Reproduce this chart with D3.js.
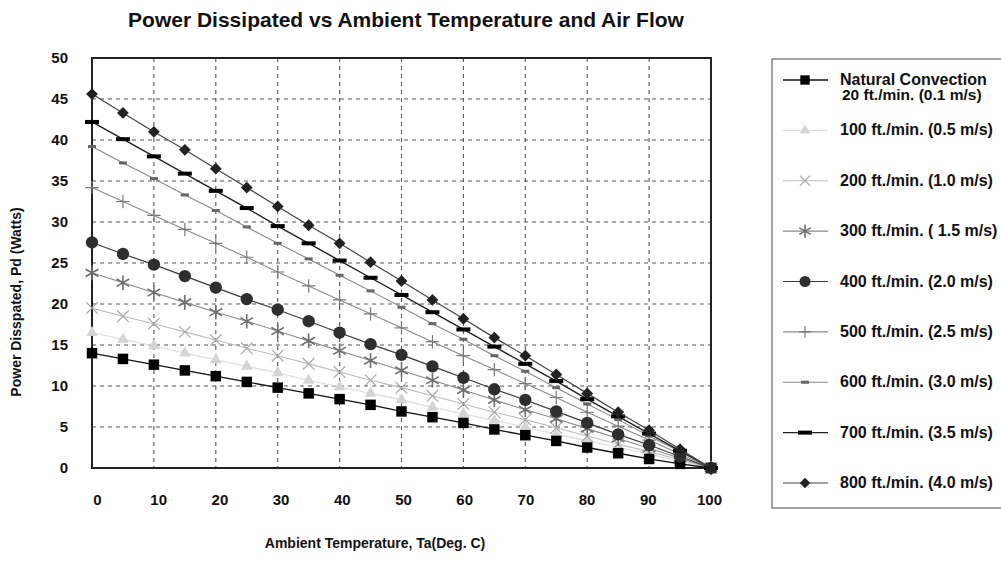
<!DOCTYPE html>
<html>
<head>
  <meta charset="utf-8">
  <script src="https://d3js.org/d3.v7.min.js"></script>
  <style>
    body { margin: 0; background: #fff; }
    text { font-family: "Liberation Sans", Arial, sans-serif; font-weight: bold; fill: #111; }
  </style>
</head>
<body>
<script type="text/javascript">
  "use strict";

  // ambient temperature (deg C), one point every 5 degrees
  var temps = [0, 5, 10, 15, 20, 25, 30, 35, 40, 45, 50, 55, 60, 65, 70, 75, 80, 85, 90, 95, 100];

  // power dissipated (W), one array per air flow
  var natural = [14.0, 13.3, 12.6, 11.9, 11.2, 10.5, 9.8, 9.1, 8.4, 7.7, 6.9, 6.2, 5.5, 4.7, 4.0, 3.3, 2.5, 1.8, 1.1, 0.5, 0];
  var flow100 = [16.5, 15.7, 14.9, 14.0, 13.2, 12.4, 11.6, 10.7, 9.9, 9.1, 8.3, 7.4, 6.6, 5.8, 5.0, 4.1, 3.3, 2.5, 1.7, 0.8, 0];
  var flow200 = [19.5, 18.5, 17.6, 16.6, 15.6, 14.6, 13.7, 12.7, 11.7, 10.7, 9.8, 8.8, 7.8, 6.8, 5.9, 4.9, 3.9, 2.9, 2.0, 1.0, 0];
  var flow300 = [23.8, 22.6, 21.4, 20.2, 19.0, 17.9, 16.7, 15.5, 14.3, 13.1, 11.9, 10.7, 9.5, 8.3, 7.1, 6.0, 4.8, 3.6, 2.4, 1.2, 0];
  var flow400 = [27.5, 26.1, 24.8, 23.4, 22.0, 20.6, 19.3, 17.9, 16.5, 15.1, 13.8, 12.4, 11.0, 9.6, 8.3, 6.9, 5.5, 4.1, 2.8, 1.4, 0];
  var flow500 = [34.2, 32.5, 30.8, 29.1, 27.4, 25.7, 23.9, 22.2, 20.5, 18.8, 17.1, 15.4, 13.7, 12.0, 10.3, 8.6, 6.8, 5.1, 3.4, 1.7, 0];
  var flow600 = [39.2, 37.2, 35.3, 33.3, 31.4, 29.4, 27.4, 25.5, 23.5, 21.6, 19.6, 17.6, 15.7, 13.7, 11.8, 9.8, 7.8, 5.9, 3.9, 2.0, 0];
  var flow700 = [42.2, 40.1, 38.0, 35.9, 33.8, 31.7, 29.5, 27.4, 25.3, 23.2, 21.1, 19.0, 16.9, 14.8, 12.7, 10.6, 8.4, 6.3, 4.2, 2.1, 0];
  var flow800 = [45.6, 43.3, 41.0, 38.8, 36.5, 34.2, 31.9, 29.6, 27.4, 25.1, 22.8, 20.5, 18.2, 15.9, 13.7, 11.4, 9.1, 6.8, 4.6, 2.3, 0];

  var seriesNames = [
    ["Natural Convection", "20 ft./min. (0.1 m/s)"],
    ["100 ft./min. (0.5 m/s)"],
    ["200 ft./min. (1.0 m/s)"],
    ["300 ft./min. ( 1.5 m/s)"],
    ["400 ft./min. (2.0 m/s)"],
    ["500 ft./min. (2.5 m/s)"],
    ["600 ft./min. (3.0 m/s)"],
    ["700 ft./min. (3.5 m/s)"],
    ["800 ft./min. (4.0 m/s)"]
  ];
  var seriesValues = [natural, flow100, flow200, flow300, flow400, flow500, flow600, flow700, flow800];

  var xTicks = [0, 10, 20, 30, 40, 50, 60, 70, 80, 90, 100];
  var yTicks = [0, 5, 10, 15, 20, 25, 30, 35, 40, 45, 50];

  // look of each series: marker kind, marker colour, line colour
  var styles = [
    {mark: "square",   fill: "#000",    line: "#111",    lw: 1.3},
    {mark: "triangle", fill: "#d4d4d4", line: "#dedede", lw: 1.2},
    {mark: "times",    fill: "#a8a8a8", line: "#bdbdbd", lw: 1.1},
    {mark: "asterisk", fill: "#6e6e6e", line: "#8a8a8a", lw: 1.1},
    {mark: "circle",   fill: "#2e2e2e", line: "#3a3a3a", lw: 1.2},
    {mark: "plus",     fill: "#777",    line: "#8a8a8a", lw: 1.1},
    {mark: "dash",     fill: "#666",    line: "#888",    lw: 1.1},
    {mark: "bar",      fill: "#000",    line: "#222",    lw: 1.4},
    {mark: "diamond",  fill: "#222",    line: "#444",    lw: 1.2}
  ];

  var W = 1001, H = 580;
  var plot = {left: 92, top: 58, right: 711, bottom: 468};

  var svg = d3.select("body").append("svg")
      .attr("width", W).attr("height", H);

  var x = d3.scaleLinear().domain([0, 100]).range([plot.left, plot.right]);
  var y = d3.scaleLinear().domain([0, 50]).range([plot.bottom, plot.top]);
  // tick labels sit slightly right of the grid lines on the scan
  var xLabel = d3.scaleLinear().domain([0, 100]).range([97, 709]);

  // title
  svg.append("text")
      .attr("x", 406).attr("y", 27)
      .attr("text-anchor", "middle")
      .attr("font-size", 21)
      .text("Power Dissipated vs Ambient Temperature and Air Flow");

  // dashed grid
  var grid = svg.append("g").attr("stroke", "#555").attr("stroke-width", 1.1)
      .attr("stroke-dasharray", "4,4");
  grid.selectAll("line.v").data(xTicks.slice(1, -1)).enter().append("line")
      .attr("x1", d => x(d)).attr("x2", d => x(d))
      .attr("y1", plot.top).attr("y2", plot.bottom);
  grid.selectAll("line.h").data(yTicks.slice(1, -1)).enter().append("line")
      .attr("y1", d => y(d)).attr("y2", d => y(d))
      .attr("x1", plot.left).attr("x2", plot.right);

  // frame
  svg.append("rect")
      .attr("x", plot.left).attr("y", plot.top)
      .attr("width", plot.right - plot.left).attr("height", plot.bottom - plot.top)
      .attr("fill", "none").attr("stroke", "#222").attr("stroke-width", 2);

  // axes (labels only, the frame is the axis line)
  var xAxis = svg.append("g")
      .attr("transform", "translate(0," + (plot.bottom + 26) + ")")
      .call(d3.axisBottom(xLabel).tickValues(xTicks).tickSize(0).tickPadding(0));
  xAxis.select(".domain").remove();
  xAxis.selectAll("text").attr("font-size", 15).attr("dy", "0.71em");

  var yAxis = svg.append("g")
      .attr("transform", "translate(" + (plot.left - 24) + ",0)")
      .call(d3.axisLeft(y).tickValues(yTicks).tickSize(0).tickPadding(0));
  yAxis.select(".domain").remove();
  yAxis.selectAll("text").attr("font-size", 15);

  svg.append("text")
      .attr("transform", "translate(21,302) rotate(-90)")
      .attr("text-anchor", "middle")
      .attr("font-size", 14)
      .text("Power Disspated, Pd (Watts)");

  svg.append("text")
      .attr("x", 375).attr("y", 548)
      .attr("text-anchor", "middle")
      .attr("font-size", 14)
      .text("Ambient Temperature, Ta(Deg. C)");

  // marker drawing
  function drawMark(g, kind, color, k) {
    k = k || 1;
    if (kind === "square") {
      g.append("path").attr("d", d3.symbol(d3.symbolSquare, 110 * k)()).attr("fill", color);
    } else if (kind === "triangle") {
      g.append("path").attr("d", d3.symbol(d3.symbolTriangle, 60 * k)()).attr("fill", color);
    } else if (kind === "circle") {
      g.append("path").attr("d", d3.symbol(d3.symbolCircle, 120 * k)()).attr("fill", color);
    } else if (kind === "diamond") {
      g.append("path").attr("d", d3.symbol(d3.symbolSquare, 70 * k)())
          .attr("transform", "rotate(45)").attr("fill", color);
    } else if (kind === "times") {
      g.append("path").attr("d", d3.symbol(d3.symbolTimes, 90 * k)())
          .attr("fill", "none").attr("stroke", color).attr("stroke-width", 1.2);
    } else if (kind === "asterisk") {
      g.append("path").attr("d", d3.symbol(d3.symbolAsterisk, 150 * k)())
          .attr("fill", "none").attr("stroke", color).attr("stroke-width", 1.6);
    } else if (kind === "plus") {
      g.append("path").attr("d", d3.symbol(d3.symbolPlus, 60 * k)())
          .attr("fill", "none").attr("stroke", color).attr("stroke-width", 1.2);
    } else if (kind === "dash") {
      g.append("rect").attr("x", -4).attr("y", -1.5).attr("width", 8).attr("height", 3).attr("fill", color);
    } else if (kind === "bar") {
      g.append("rect").attr("x", -7).attr("y", -2).attr("width", 14).attr("height", 4).attr("fill", color);
    }
  }

  var line = d3.line().x(d => x(d[0])).y(d => y(d[1]));

  // series, drawn lightest first so dark markers sit on top
  var order = [1, 2, 3, 5, 6, 0, 4, 7, 8];
  order.forEach(function (i) {
    var pts = temps.map((t, k) => [t, seriesValues[i][k]]);
    var st = styles[i];
    svg.append("path").datum(pts)
        .attr("d", line)
        .attr("fill", "none")
        .attr("stroke", st.line)
        .attr("stroke-width", st.lw);
    svg.append("g").selectAll("g").data(pts).enter().append("g")
        .attr("transform", d => "translate(" + x(d[0]) + "," + y(d[1]) + ")")
        .each(function () { drawMark(d3.select(this), st.mark, st.fill); });
  });

  // legend
  var lg = svg.append("g");
  lg.append("rect")
      .attr("x", 772).attr("y", 59)
      .attr("width", 240).attr("height", 449)
      .attr("fill", "none").attr("stroke", "#666").attr("stroke-width", 1.2);

  var legendY = d3.scaleLinear().domain([0, 8]).range([80, 483]);
  seriesNames.forEach(function (names, i) {
    var cy = legendY(i);
    var st = styles[i];
    var item = lg.append("g").attr("transform", "translate(0," + cy + ")");
    item.append("line")
        .attr("x1", 783).attr("x2", 828)
        .attr("stroke", st.line).attr("stroke-width", st.lw);
    var m = item.append("g").attr("transform", "translate(805,0)");
    drawMark(m, st.mark, st.fill, 0.8);
    item.append("text").attr("x", 840).attr("y", 5).attr("font-size", 16).text(names[0]);
    if (names.length === 2) {
      item.append("text").attr("x", 842).attr("y", 20).attr("font-size", 15.5).text(names[1]);
    }
  });
</script>
</body>
</html>
